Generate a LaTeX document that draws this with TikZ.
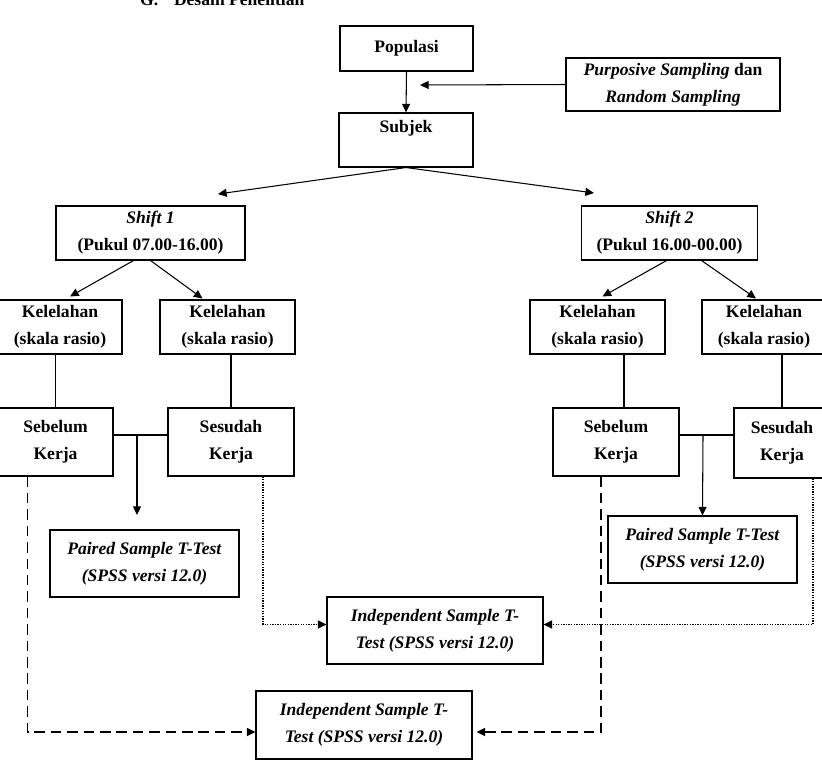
\documentclass[tikz,border=0pt]{standalone}
\usepackage{fontspec}
\setmainfont{Liberation Serif}
\usetikzlibrary{arrows.meta,calc}
\begin{document}
\begin{tikzpicture}[x=0.03cm,y=-0.03cm]
		\tikzstyle{kotak} = [rectangle,draw,line width=0.9pt,align=center,inner sep=2pt,font=\fontsize{15}{23}\selectfont\bfseries]
		\tikzstyle{garis} = [line width=0.9pt]
		\tikzstyle{panah} = [line width=0.9pt,-{Triangle[length=0.26cm,width=0.24cm]}]
		\tikzstyle{putus} = [panah,line width=1.4pt,dash pattern=on 9pt off 5pt]
		\tikzstyle{titik} = [panah,line width=1.6pt,dash pattern=on 1.1pt off 1.1pt]
		\useasboundingbox (0,0) rectangle (822,774);
		\node[anchor=base west,font=\fontsize{15}{23}\selectfont\bfseries] (judul) at (136,5) {G.\hspace{0.9em}Desain Penelitian};
		\node[kotak,minimum width=3.99cm,minimum height=1.35cm] (pop) at (406.5,48.5) {Populasi};
		\node[kotak,minimum width=6.42cm,minimum height=1.59cm] (samp) at (673,84.5) {\textit{Purposive Sampling} dan\\\textit{Random Sampling}};
		\node[kotak,minimum width=4.02cm,minimum height=1.62cm] (subj) at (406,140) {Subjek\\\mbox{}};
		\node[kotak,minimum width=5.67cm,minimum height=1.62cm] (sh1) at (150.5,233) {\textit{Shift 1}\\(Pukul 07.00-16.00)};
		\node[kotak,minimum width=5.28cm,minimum height=1.62cm] (sh2) at (669.5,233) {\textit{Shift 2}\\(Pukul 16.00-00.00)};
		\node[kotak,minimum width=3.72cm,minimum height=1.62cm] (kl1) at (60,327) {Kelelahan\\(skala rasio)};
		\node[kotak,minimum width=4.05cm,minimum height=1.62cm] (kl2) at (227.5,327) {Kelelahan\\(skala rasio)};
		\node[kotak,minimum width=4.05cm,minimum height=1.62cm] (kl3) at (597.5,327) {Kelelahan\\(skala rasio)};
		\node[kotak,minimum width=3.72cm,minimum height=1.62cm] (kl4) at (764,327) {Kelelahan\\(skala rasio)};
		\node[kotak,minimum width=3.45cm,minimum height=2.04cm] (sb1) at (55.5,442) {Sebelum\\Kerja};
		\node[kotak,minimum width=3.78cm,minimum height=2.04cm] (ss1) at (231,442) {Sesudah\\Kerja};
		\node[kotak,minimum width=3.78cm,minimum height=2.04cm] (sb2) at (616,442) {Sebelum\\Kerja};
		\node[kotak,minimum width=2.88cm,minimum height=2.1cm] (ss2) at (782,443) {Sesudah\\Kerja};
		\node[kotak,minimum width=5.67cm,minimum height=2.01cm] (pt1) at (144.5,563.5) {\textit{Paired Sample T-Test}\\\textit{(SPSS versi 12.0)}};
		\node[kotak,minimum width=5.67cm,minimum height=2.01cm] (pt2) at (702.5,549.5) {\textit{Paired Sample T-Test}\\\textit{(SPSS versi 12.0)}};
		\node[kotak,minimum width=6.48cm,minimum height=2.01cm] (in1) at (435,630.5) {\textit{Independent Sample T-}\\\textit{Test (SPSS versi 12.0)}};
		\node[kotak,minimum width=6.48cm,minimum height=2.04cm] (in2) at (364,725) {\textit{Independent Sample T-}\\\textit{Test (SPSS versi 12.0)}};
		\coordinate (sampujung) at (420,85);
		\coordinate (sh1ujung) at (218,194);
		\coordinate (sh2ujung) at (594,193);
		\coordinate (cab1) at (137,435);
		\coordinate (pt1ujung) at (137,515);
		\coordinate (cab2) at (703,435);
		\draw[panah] (pop.south) -- (subj.north);
		\draw[panah] (samp.west) -- (sampujung);
		\draw[panah] (subj.south) -- (sh1ujung);
		\draw[panah] (subj.south) -- (sh2ujung);
		\draw[panah] ($(sh1.south)+(-17,0)$) -- ($(kl1.north)+(10,-3)$);
		\draw[panah] (sh1.south) -- ($(kl2.north)+(-25,-1)$);
		\draw[panah] ($(sh2.south)+(-3,0)$) -- ($(kl3.north)+(5,-3)$);
		\draw[panah] ($(sh2.south)+(32,0)$) -- ($(kl4.north)+(-8,-1)$);
		\draw[garis] (kl1.south -| sb1.north) -- (sb1.north);
		\draw[garis] (kl2.south -| ss1.north) -- (ss1.north);
		\draw[garis] ($(kl3.south -| sb2.north)+(8,0)$) -- ($(sb2.north)+(8,0)$);
		\draw[garis] (kl4.south -| ss2.north) -- (ss2.north);
		\draw[garis] ($(sb1.east)+(0,-7)$) -- ($(ss1.west)+(0,-7)$);
		\draw[garis] ($(sb2.east)+(0,-7)$) -- ($(ss2.west)+(0,-8)$);
		\draw[panah] (cab1) -- (pt1ujung);
		\draw[panah] (cab2) -- (pt2.north);
		\draw[titik] ($(ss1.south)+(32,0)$) |- ($(in1.west)+(0,-6)$);
		\draw[titik] ($(ss2.south)+(31,0)$) |- ($(in1.east)+(0,-6)$);
		\draw[putus] ($(sb1.south)+(-28,0)$) |- ($(in2.west)+(0,7)$);
		\draw[putus] ($(sb2.south)+(-15,0)$) |- ($(in2.east)+(4,7)$);
	\end{tikzpicture}
\end{document}
